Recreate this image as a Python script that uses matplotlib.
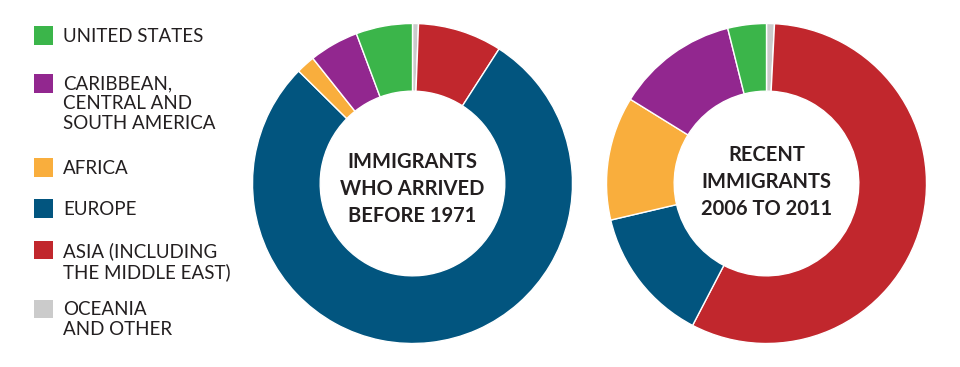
import matplotlib
matplotlib.use("Agg")
import matplotlib.pyplot as plt
from matplotlib.patches import Rectangle

# regions, in the order the wedges run clockwise from 12 o'clock
regions = ["OCEANIA\nAND OTHER", "ASIA (INCLUDING\nTHE MIDDLE EAST)", "EUROPE", "AFRICA",
           "CARIBBEAN,\nCENTRAL AND\nSOUTH AMERICA", "UNITED STATES"]
colors = ["#cbcbcb", "#c1272d", "#02557f", "#f9ae3d", "#92278f", "#3bb54a"]

before_1971 = [0.6, 8.5, 78.3, 1.9, 5.0, 5.7]
recent_2006_2011 = [0.8, 56.9, 13.7, 12.5, 12.3, 3.9]

titles = ["IMMIGRANTS\nWHO ARRIVED\nBEFORE 1971", "RECENT\nIMMIGRANTS\n2006 TO 2011"]

# legend runs in a different order than the wedges
legend_order = [5, 4, 3, 2, 1, 0]
legend_y = [35.5, 83.3, 167.5, 208.7, 250, 309]   # pixel rows from top

W, H = 960, 367
txt_col = "#231f20"

fig = plt.figure(figsize=(W / 100, H / 100), dpi=100)

def donut(cx, cy, r, vals, title, ty):
    ax = fig.add_axes([(cx - r) / W, (H - cy - r) / H, 2 * r / W, 2 * r / H])
    ax.pie(vals, colors=colors, startangle=90, counterclock=False, radius=1,
           wedgeprops=dict(width=0.423, edgecolor="white", linewidth=1))
    ax.set_xlim(-1, 1)
    ax.set_ylim(-1, 1)
    ax.set_aspect("equal")
    ax.axis("off")
    ax.text(0, ty, title, ha="center", va="center", fontsize=14.5, fontweight="bold",
            color=txt_col, family="Lato", linespacing=1.45)

donut(412.5, 183.5, 160, before_1971, titles[0], -0.035)
donut(766.5, 183.5, 160, recent_2006_2011, titles[1], 0.01)

# legend, drawn by hand
lax = fig.add_axes([0, 0, 1, 1])
lax.set_xlim(0, W)
lax.set_ylim(H, 0)
lax.axis("off")
for i, y in zip(legend_order, legend_y):
    lax.add_patch(Rectangle((34, y - 9.3), 18.7, 18.7, color=colors[i], lw=0))
    lax.text(63, y - 8, regions[i], ha="left", va="top", fontsize=13.5,
             color=txt_col, family="Lato", linespacing=1.22)

fig.savefig("out.png", dpi=100, facecolor="white")
